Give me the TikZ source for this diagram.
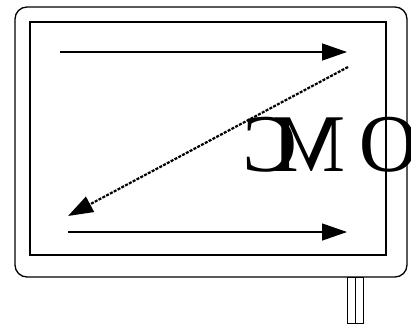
\documentclass[tikz,border=0pt]{standalone}
\usepackage{fontspec}
\setmainfont{Liberation Serif}
\usetikzlibrary{arrows.meta}
\tikzset{
  flow/.style={-{Triangle[length=25pt,width=17pt]},line width=1.3pt},
  back/.style={-{Triangle[length=25pt,width=17pt]},line width=2.2pt,dash pattern=on 3pt off 1.3pt},
}
\begin{document}
\begin{tikzpicture}[x=1pt,y=-1pt]
\useasboundingbox (0,0) rectangle (411,325);
% mirrored label
\node[inner sep=0pt,xscale=-1,font=\fontsize{82}{82}\selectfont] (label) at (331,145) {O\kern14pt M\kern-25pt C};
% frame
\draw[line width=1.3pt,rounded corners=12pt] (15,7) rectangle (407,277);
\draw[line width=1.4pt] (30,22) rectangle (386,255);
% stub
\draw[line width=0.9pt] (347,277) rectangle (355,323);
\draw[line width=0.9pt] (355,277) rectangle (363,323);
% scan path
\coordinate (a1) at (60,52);
\coordinate (a2) at (347,52);
\coordinate (d1) at (348,67);
\coordinate (d2) at (68,216);
\coordinate (b1) at (68,232);
\coordinate (b2) at (347,232);
\draw[flow] (a1)--(a2);
\draw[back] (d1)--(d2);
\draw[flow] (b1)--(b2);
\end{tikzpicture}
\end{document}
